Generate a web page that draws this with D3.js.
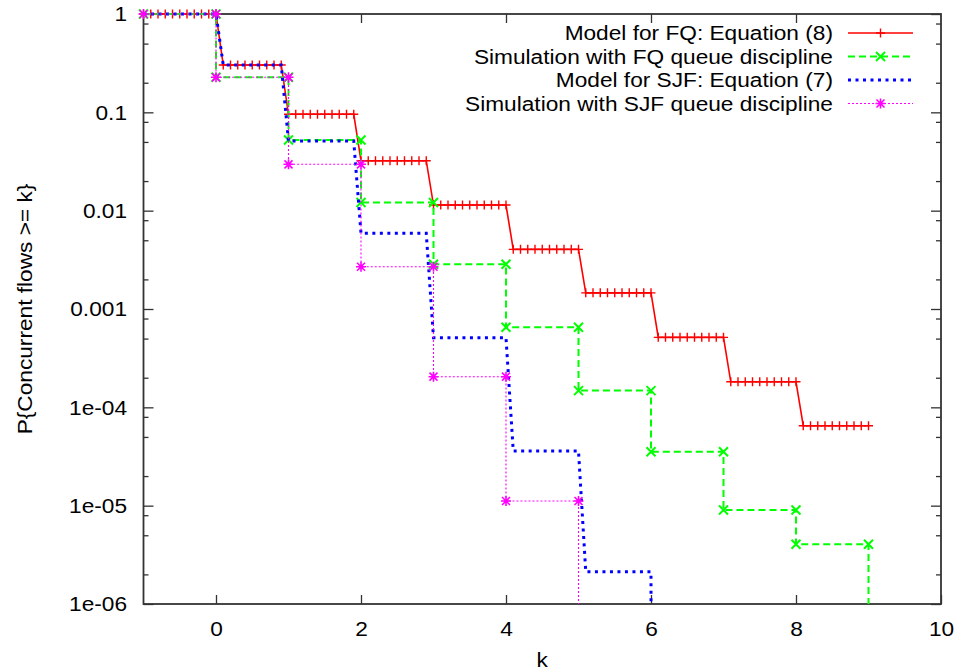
<!DOCTYPE html>
<html><head><meta charset="utf-8">
<script src="https://cdn.jsdelivr.net/npm/d3@7"></script>
<style>
html,body{margin:0;padding:0;background:#fff;}
svg{display:block;font-family:"Liberation Sans",Arial,Helvetica,sans-serif;}
</style></head><body>
<svg id="chart" width="958" height="672"></svg>
<script>
// ---------- data ----------
const xTicks = [0, 2, 4, 6, 8, 10];
const yTicks = [1, 0.1, 0.01, 0.001, 1e-4, 1e-5, 1e-6];
const yTickLabels = ["1", "0.1", "0.01", "0.001", "1e-04", "1e-05", "1e-06"];
const yMinorTicks = [0.8, 0.5, 0.2, 0.08, 0.05, 0.02, 0.008, 0.005, 0.002,
  8e-4, 5e-4, 2e-4, 8e-5, 5e-5, 2e-5, 8e-6, 5e-6, 2e-6];

// models are sampled every 0.1 in k; each step covers [start, end]
const modelStart = [-1, 0.1, 1.0, 2.0, 3.0, 4.1, 5.1, 6.1, 7.1, 8.1];
const modelEnd   = [ 0, 0.9, 1.9, 2.9, 4.0, 5.0, 6.0, 7.0, 8.0, 9.0];
const fqModel  = [1, 0.303, 0.0955, 0.0322, 0.0114, 0.00404, 0.00146, 0.000515, 0.000182, 6.5e-5];
const sjfModel = [1, 0.303, 0.051, 0.00589, 0.000511, 3.6e-5, 2.13e-6];

// simulations: step k covers [k, k+1]
const simK   = [-1, 0, 1, 2, 3, 4, 5, 6, 7, 8];
const fqSim  = [1, 0.227, 0.0523, 0.0121, 0.00285, 0.000651, 0.000148, 3.54e-5, 9.03e-6, 4.05e-6];
const sjfSim = [1, 0.227, 0.0296, 0.00269, 0.000205, 1.115e-5];

const legendLabels = ["Model for FQ: Equation (8)", "Simulation with FQ queue discipline",
  "Model for SJF: Equation (7)", "Simulation with SJF queue discipline"];

// ---------- layout ----------
const L = 143.5, R = 941, T = 14, B = 604;
const FONT = 21, STRETCH = 1.08;
const svg = d3.select("#chart");
const x = d3.scaleLinear().domain([-1, 10]).range([L, R]);
const y = d3.scaleLog().domain([1e-6, 1]).range([B, T]);
const axisColor = "#333";

function stretch(sel) {
  sel.each(function() {
    const t = d3.select(this);
    const ax = +t.attr("x") || 0;
    t.attr("transform", `translate(${ax},0) scale(${STRETCH},1) translate(${-ax},0)`);
  });
}

// ---------- axes ----------
function styleAxis(g) {
  g.select(".domain").remove();
  g.selectAll("line").attr("stroke", axisColor).attr("stroke-width", 1.3);
  g.selectAll("text").attr("fill", "#000").style("font-size", FONT + "px")
    .style("font-family", '"Liberation Sans",Arial,sans-serif');
}
svg.append("g").attr("transform", `translate(0,${B})`)
  .call(d3.axisBottom(x).tickValues(xTicks).tickFormat(d3.format("d"))
    .tickSizeInner(-9).tickSizeOuter(0).tickPadding(17.5))
  .call(styleAxis).call(g => stretch(g.selectAll("text")));
svg.append("g").attr("transform", `translate(0,${T})`)
  .call(d3.axisTop(x).tickValues(xTicks.slice(0, -1)).tickFormat("")
    .tickSizeInner(-9).tickSizeOuter(0))
  .call(styleAxis);
svg.append("g").attr("transform", `translate(${L},0)`)
  .call(d3.axisLeft(y).tickValues(yTicks).tickFormat((d, i) => yTickLabels[i])
    .tickSizeInner(-10).tickSizeOuter(0).tickPadding(16.5))
  .call(styleAxis).call(g => stretch(g.selectAll("text")));
svg.append("g").attr("transform", `translate(${L},0)`)
  .call(d3.axisLeft(y).tickValues(yMinorTicks).tickFormat("").tickSizeInner(-5).tickSizeOuter(0))
  .call(styleAxis);
svg.append("g").attr("transform", `translate(${R},0)`)
  .call(d3.axisRight(y).tickValues(yTicks).tickFormat("").tickSizeInner(-10).tickSizeOuter(0))
  .call(styleAxis);
svg.append("g").attr("transform", `translate(${R},0)`)
  .call(d3.axisRight(y).tickValues(yMinorTicks).tickFormat("").tickSizeInner(-5).tickSizeOuter(0))
  .call(styleAxis);

svg.append("rect").attr("x", L).attr("y", T).attr("width", R - L).attr("height", B - T)
  .attr("fill", "none").attr("stroke", axisColor).attr("stroke-width", 1.8);

// axis titles
svg.append("text").attr("x", (L + R) / 2).attr("y", 660).attr("text-anchor", "middle")
  .attr("dominant-baseline", "central").style("font-size", FONT + "px").text("k")
  .call(stretch);
svg.append("text").attr("transform", `translate(25,${(T + B) / 2}) rotate(-90) scale(${STRETCH},1)`)
  .attr("text-anchor", "middle").attr("dominant-baseline", "central")
  .style("font-size", FONT + "px").text("P{Concurrent flows >= k}");

// ---------- series ----------
const line = d3.line().x(d => x(d[0])).y(d => d[1] === null ? B : y(d[1]));

function modelPoints(vals) {
  const pts = [];
  vals.forEach((v, i) => {
    const n = Math.round((modelEnd[i] - modelStart[i]) / 0.1);
    for (let j = 0; j <= n; j++) pts.push([modelStart[i] + j * 0.1, v]);
  });
  return pts;
}
function simPoints(vals) {
  const pts = [];
  vals.forEach((v, i) => { pts.push([simK[i], v]); pts.push([simK[i] + 1, v]); });
  return pts;
}

function marker(g, type, cx, cy, color, s, w) {
  const p = d3.path();
  if (type === "plus" || type === "star") {
    p.moveTo(cx - s, cy); p.lineTo(cx + s, cy); p.moveTo(cx, cy - s); p.lineTo(cx, cy + s);
  }
  if (type === "cross" || type === "star") {
    const k = type === "star" ? s * 0.8 : s;
    p.moveTo(cx - k, cy - k); p.lineTo(cx + k, cy + k); p.moveTo(cx - k, cy + k); p.lineTo(cx + k, cy - k);
  }
  g.append("path").attr("d", p.toString()).attr("stroke", color).attr("stroke-width", w).attr("fill", "none");
}

const styles = [
  {color: "#ff0000", width: 1.6, dash: null, marker: "plus", ms: 4.5, mw: 1.4},
  {color: "#00ff00", width: 2, dash: "7,4", marker: "cross", ms: 4.5, mw: 2},
  {color: "#0000ff", width: 3, dash: "3,4.5", marker: null},
  {color: "#ff00ff", width: 1.1, dash: "2,2", marker: "star", ms: 5, mw: 1.6}
];

const series = [
  {pts: modelPoints(fqModel), drop: false},
  {pts: simPoints(fqSim), drop: true},
  {pts: modelPoints(sjfModel), drop: true},
  {pts: simPoints(sjfSim), drop: true}
];

series.forEach((s, i) => {
  const st = styles[i];
  const pts = s.pts.slice();
  if (s.drop) pts.push([pts[pts.length - 1][0], null]);
  const g = svg.append("g");
  g.append("path").attr("d", line(pts)).attr("fill", "none").attr("stroke", st.color)
    .attr("stroke-width", st.width).attr("stroke-dasharray", st.dash)
    .attr("stroke-linejoin", "miter");
  if (st.marker) s.pts.forEach(d => marker(g, st.marker, x(d[0]), y(d[1]), st.color, st.ms, st.mw));
});

// ---------- legend ----------
const legY = [33, 56.5, 80, 103.5];
legendLabels.forEach((lab, i) => {
  const st = styles[i];
  svg.append("text").attr("x", 833).attr("y", legY[i]).attr("text-anchor", "end")
    .attr("dominant-baseline", "central").style("font-size", FONT + "px").attr("fill", "#000")
    .text(lab).call(stretch);
  svg.append("line").attr("x1", 848).attr("x2", 913).attr("y1", legY[i]).attr("y2", legY[i])
    .attr("stroke", st.color).attr("stroke-width", st.width).attr("stroke-dasharray", st.dash);
  if (st.marker) marker(svg, st.marker, 880.5, legY[i], st.color, st.ms, st.mw);
});
</script>
</body></html>
